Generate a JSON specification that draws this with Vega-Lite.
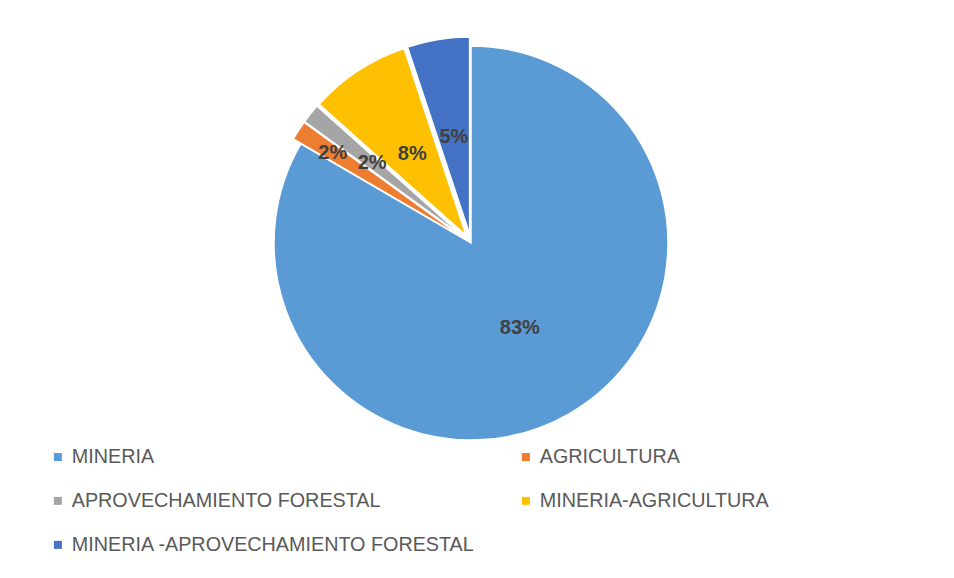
{
  "$schema": "https://vega.github.io/schema/vega-lite/v6.json",
  "width": 942,
  "height": 486,
  "autosize": {"type": "none"},
  "padding": {"left": 0, "top": 0, "right": 12, "bottom": 92},
  "background": "white",
  "config": {"view": {"stroke": null}, "font": "Liberation Sans"},
  "data": {
    "values": [
      {"cat": "MINERIA", "valor": 83.4, "orden": 1, "etiqueta": "83%"},
      {"cat": "AGRICULTURA", "valor": 1.6, "orden": 2, "etiqueta": "2%"},
      {"cat": "APROVECHAMIENTO FORESTAL", "valor": 1.6, "orden": 3, "etiqueta": "2%"},
      {"cat": "MINERIA-AGRICULTURA", "valor": 8.3, "orden": 4, "etiqueta": "8%"},
      {"cat": "MINERIA -APROVECHAMIENTO FORESTAL", "valor": 5.1, "orden": 5, "etiqueta": "5%"}
    ]
  },
  "transform": [
    {"stack": "valor", "groupby": [], "sort": [{"field": "orden", "order": "ascending"}], "as": ["v0", "v1"]}
  ],
  "encoding": {
    "color": {
      "field": "cat",
      "type": "nominal",
      "scale": {
        "domain": ["MINERIA", "AGRICULTURA", "APROVECHAMIENTO FORESTAL", "MINERIA-AGRICULTURA", "MINERIA -APROVECHAMIENTO FORESTAL"],
        "range": ["#5B9BD5", "#ED7D31", "#A5A5A5", "#FFC000", "#4472C4"]
      },
      "legend": {
        "title": null,
        "orient": "none",
        "direction": "horizontal",
        "legendX": 48,
        "legendY": 447,
        "columns": 2,
        "symbolType": "square",
        "symbolSize": 64,
        "symbolStrokeWidth": 0,
        "labelFontSize": 19.75,
        "labelColor": "#595959",
        "labelFont": "Liberation Sans",
        "labelLimit": 600,
        "labelOffset": 4,
        "rowPadding": 23,
        "columnPadding": 41,
        "padding": 0
      }
    }
  },
  "layer": [
    {
      "transform": [{"filter": "datum.cat === 'MINERIA'"}],
      "mark": {"type": "arc", "radius": 197, "stroke": "white", "strokeWidth": 1.5},
      "encoding": {
        "theta": {"field": "v0", "type": "quantitative", "stack": null, "scale": {"domain": [0, 100]}},
        "theta2": {"field": "v1"}
      }
    },
    {
      "transform": [{"filter": "datum.cat === 'AGRICULTURA'"}],
      "mark": {"type": "arc", "radius": 197, "stroke": "white", "strokeWidth": 1.5, "xOffset": -7.5, "yOffset": -4.9},
      "encoding": {
        "theta": {"field": "v0", "type": "quantitative", "stack": null, "scale": {"domain": [0, 100]}},
        "theta2": {"field": "v1"}
      }
    },
    {
      "transform": [{"filter": "datum.cat === 'APROVECHAMIENTO FORESTAL'"}],
      "mark": {"type": "arc", "radius": 197, "stroke": "white", "strokeWidth": 1.5, "xOffset": -7.0, "yOffset": -5.7},
      "encoding": {
        "theta": {"field": "v0", "type": "quantitative", "stack": null, "scale": {"domain": [0, 100]}},
        "theta2": {"field": "v1"}
      }
    },
    {
      "transform": [{"filter": "datum.cat === 'MINERIA-AGRICULTURA'"}],
      "mark": {"type": "arc", "radius": 197, "stroke": "white", "strokeWidth": 1.5, "xOffset": -4.9, "yOffset": -7.5},
      "encoding": {
        "theta": {"field": "v0", "type": "quantitative", "stack": null, "scale": {"domain": [0, 100]}},
        "theta2": {"field": "v1"}
      }
    },
    {
      "transform": [{"filter": "datum.cat === 'MINERIA -APROVECHAMIENTO FORESTAL'"}],
      "mark": {"type": "arc", "radius": 197, "stroke": "white", "strokeWidth": 1.5, "xOffset": -1.4, "yOffset": -8.9},
      "encoding": {
        "theta": {"field": "v0", "type": "quantitative", "stack": null, "scale": {"domain": [0, 100]}},
        "theta2": {"field": "v1"}
      }
    },
    {
      "mark": {"type": "text", "radius": 98, "fontSize": 20, "fontWeight": "bold", "color": "#404040", "font": "Liberation Sans"},
      "encoding": {
        "color": {"value": "#404040"},
        "theta": {"field": "valor", "type": "quantitative", "stack": true, "scale": {"domain": [0, 100]}},
        "order": {"field": "orden", "type": "quantitative"},
        "text": {"condition": {"test": "datum.cat === 'MINERIA'", "field": "etiqueta"}, "value": ""}
      }
    },
    {
      "mark": {"type": "text", "radius": 107, "fontSize": 20, "fontWeight": "bold", "color": "#404040", "font": "Liberation Sans"},
      "encoding": {
        "color": {"value": "#404040"},
        "theta": {"field": "valor", "type": "quantitative", "stack": true, "scale": {"domain": [0, 100]}},
        "order": {"field": "orden", "type": "quantitative"},
        "text": {"condition": {"test": "datum.cat === 'MINERIA-AGRICULTURA' || datum.cat === 'MINERIA -APROVECHAMIENTO FORESTAL'", "field": "etiqueta"}, "value": ""}
      }
    },
    {
      "mark": {"type": "text", "radius": 127, "fontSize": 20, "fontWeight": "bold", "color": "#404040", "font": "Liberation Sans"},
      "encoding": {
        "color": {"value": "#404040"},
        "theta": {"field": "valor", "type": "quantitative", "stack": true, "scale": {"domain": [0, 100]}},
        "order": {"field": "orden", "type": "quantitative"},
        "text": {"condition": {"test": "datum.cat === 'APROVECHAMIENTO FORESTAL'", "field": "etiqueta"}, "value": ""}
      }
    },
    {
      "mark": {"type": "text", "radius": 165, "fontSize": 20, "fontWeight": "bold", "color": "#404040", "font": "Liberation Sans"},
      "encoding": {
        "color": {"value": "#404040"},
        "theta": {"field": "valor", "type": "quantitative", "stack": true, "scale": {"domain": [0, 100]}},
        "order": {"field": "orden", "type": "quantitative"},
        "text": {"condition": {"test": "datum.cat === 'AGRICULTURA'", "field": "etiqueta"}, "value": ""}
      }
    }
  ]
}
